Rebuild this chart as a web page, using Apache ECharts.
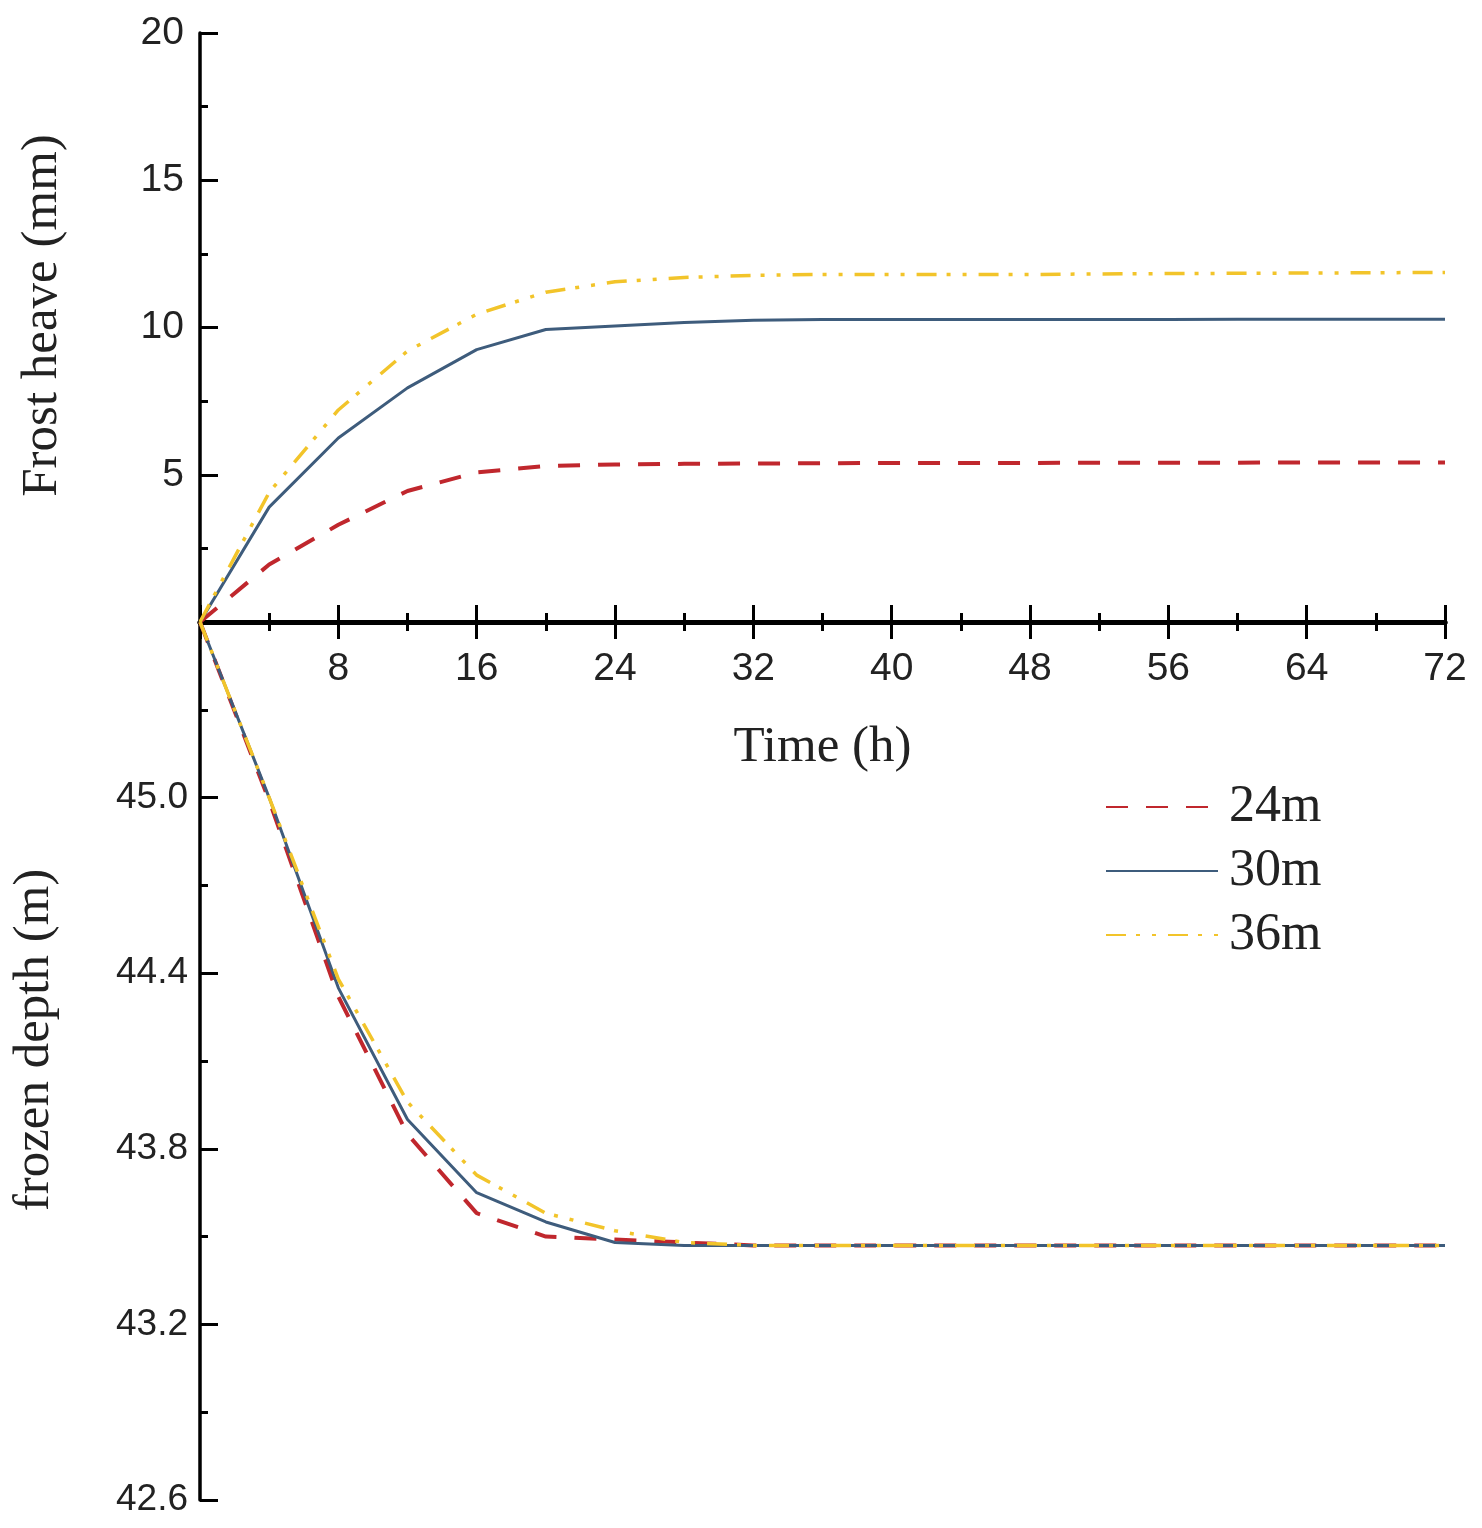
<!DOCTYPE html>
<html>
<head>
<meta charset="utf-8">
<script src="https://cdn.jsdelivr.net/npm/echarts@6/dist/echarts.min.js"></script>
<style>
  html, body {margin: 0; padding: 0; background: #fff;}
  #chart {width: 1482px; height: 1528px;}
</style>
</head>
<body>
<div id="chart"></div>
<script>
// time steps (h)
const times = [0, 4, 8, 12, 16, 20, 24, 28, 32, 36, 40, 44, 48, 52, 56, 60, 64, 68, 72];

// frost heave (mm)
const heave24 = [0, 1.95, 3.3, 4.45, 5.08, 5.3, 5.35, 5.37, 5.38, 5.39, 5.4, 5.4, 5.4, 5.41, 5.41, 5.41, 5.42, 5.42, 5.42];
const heave30 = [0, 3.9, 6.25, 7.95, 9.25, 9.93, 10.05, 10.17, 10.25, 10.27, 10.27, 10.27, 10.27, 10.27, 10.27, 10.28, 10.28, 10.28, 10.28];
const heave36 = [0, 4.4, 7.2, 9.2, 10.45, 11.2, 11.55, 11.7, 11.77, 11.8, 11.8, 11.8, 11.8, 11.82, 11.83, 11.84, 11.85, 11.86, 11.87];

// frozen depth (m)
const depth24 = [45.6, 44.99, 44.32, 43.85, 43.58, 43.5, 43.49, 43.48, 43.47, 43.47, 43.47, 43.47, 43.47, 43.47, 43.47, 43.47, 43.47, 43.47, 43.47];
const depth30 = [45.6, 45.0, 44.35, 43.9, 43.65, 43.55, 43.48, 43.47, 43.47, 43.47, 43.47, 43.47, 43.47, 43.47, 43.47, 43.47, 43.47, 43.47, 43.47];
const depth36 = [45.6, 45.0, 44.38, 43.96, 43.71, 43.58, 43.52, 43.48, 43.47, 43.47, 43.47, 43.47, 43.47, 43.47, 43.47, 43.47, 43.47, 43.47, 43.47];

const seriesNames = ["24m", "30m", "36m"];

const colors = {"24m": "#c0272d", "30m": "#3e5c7c", "36m": "#f2c42a"};
const lineStyles = {
  "24m": {width: 4, type: [22, 18]},
  "30m": {width: 3, type: "solid"},
  "36m": {width: 3.5, type: [20, 10, 4, 12, 4, 12]},
};

const pairs = (ys) => times.map((t, i) => [t, ys[i]]);

const serif = "'Liberation Serif', 'DejaVu Serif', serif";
const sans = "'Liberation Sans', Arial, sans-serif";

const makeSeries = (name, ys, gridIdx) => ({
  name: name,
  type: "line",
  xAxisIndex: gridIdx,
  yAxisIndex: gridIdx,
  data: pairs(ys),
  symbol: "none",
  color: colors[name],
  lineStyle: Object.assign({color: colors[name]}, lineStyles[name]),
  z: name === "36m" ? 4 : (name === "30m" ? 3 : 2),
  animation: false,
});

const chart = echarts.init(document.getElementById("chart"));

const option = {
  backgroundColor: "#fff",
  animation: false,
  grid: [
    {left: 200, right: 37, top: 33, height: 589},
    {left: 200, right: 37, top: 622, height: 878},
  ],
  legend: {
    data: seriesNames,
    orient: "vertical",
    left: 1100,
    top: 776,
    itemWidth: 112,
    itemHeight: 14,
    itemGap: 12,
    itemStyle: {opacity: 0},
    textStyle: {fontFamily: serif, fontSize: 52, color: "#222", padding: [0, 0, 0, 6]},
  },
  xAxis: [
    {
      type: "value",
      gridIndex: 0,
      position: "bottom",
      min: 0,
      max: 72,
      interval: 8,
      name: "Time (h)",
      nameLocation: "middle",
      nameGap: 100,
      nameTextStyle: {fontFamily: serif, fontSize: 51, color: "#222"},
      axisLine: {onZero: false, lineStyle: {color: "#000", width: 5}},
      axisTick: {inside: true, length: 17, lineStyle: {color: "#000", width: 3}},
      minorTick: {show: true, splitNumber: 2, length: 9, lineStyle: {color: "#000", width: 3}},
      axisLabel: {showMinLabel: false, margin: 28, fontFamily: sans, fontSize: 39, color: "#222"},
      splitLine: {show: false},
    },
    {
      type: "value",
      gridIndex: 1,
      position: "top",
      min: 0,
      max: 72,
      interval: 8,
      axisLine: {onZero: false, lineStyle: {color: "#000", width: 5}},
      axisTick: {inside: true, length: 17, lineStyle: {color: "#000", width: 3}},
      minorTick: {show: true, splitNumber: 2, length: 9, lineStyle: {color: "#000", width: 3}},
      axisLabel: {show: false},
      splitLine: {show: false},
    },
  ],
  yAxis: [
    {
      type: "value",
      gridIndex: 0,
      min: 0,
      max: 20,
      interval: 5,
      name: "Frost heave (mm)",
      nameLocation: "middle",
      nameGap: 132,
      nameTextStyle: {fontFamily: serif, fontSize: 51, color: "#222", padding: [0, 0, 0, 24]},
      axisLine: {onZero: false, lineStyle: {color: "#000", width: 3.5}},
      axisTick: {inside: true, length: 18, lineStyle: {color: "#000", width: 3}},
      minorTick: {show: true, splitNumber: 2, length: 8, lineStyle: {color: "#000", width: 3}},
      axisLabel: {showMinLabel: false, margin: 16, fontFamily: sans, fontSize: 39, color: "#222"},
      splitLine: {show: false},
    },
    {
      type: "value",
      gridIndex: 1,
      min: 42.6,
      max: 45.6,
      interval: 0.6,
      name: "frozen depth (m)",
      nameLocation: "middle",
      nameGap: 140,
      nameTextStyle: {fontFamily: serif, fontSize: 51, color: "#222", padding: [0, 0, 0, 42]},
      axisLine: {onZero: false, lineStyle: {color: "#000", width: 3.5}},
      axisTick: {inside: true, length: 18, lineStyle: {color: "#000", width: 3}},
      minorTick: {show: true, splitNumber: 2, length: 8, lineStyle: {color: "#000", width: 3}},
      axisLabel: {
        showMaxLabel: false,
        margin: 12,
        fontFamily: sans,
        fontSize: 37,
        color: "#222",
        formatter: (v) => v.toFixed(1),
      },
      splitLine: {show: false},
    },
  ],
  series: [
    makeSeries("24m", heave24, 0),
    makeSeries("30m", heave30, 0),
    makeSeries("36m", heave36, 0),
    makeSeries("24m", depth24, 1),
    makeSeries("30m", depth30, 1),
    makeSeries("36m", depth36, 1),
  ],
};

chart.setOption(option);
</script>
</body>
</html>
